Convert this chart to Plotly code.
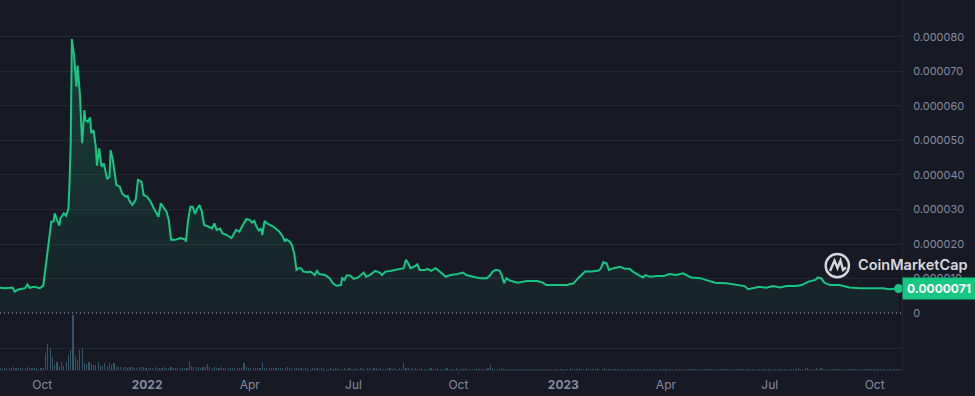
import pandas as pd
import plotly.graph_objects as go

start_date = "2021-08-25"

# price: day offset from start_date, price in units of 1e-6 USD
price_days = [0, 5, 11, 13, 16, 19, 22, 24, 26, 30, 35, 38, 40, 43, 45, 47, 48, 50, 52, 53, 56, 58, 60, 61, 62, 63, 65, 67, 68, 70,
              72, 74, 75, 77, 79, 80, 82, 84, 85, 87, 89, 91, 94, 96, 97, 99, 102, 105, 107, 110, 112, 113, 116, 119, 121, 124, 126, 129, 132, 135,
              139, 141, 144, 146, 148, 150, 154, 158, 162, 163, 165, 167, 169, 171, 173, 175, 177, 179, 183, 186, 188, 190, 193, 195, 199, 203, 207, 210, 213, 216,
              219, 221, 223, 225, 227, 229, 230, 232, 234, 237, 240, 243, 245, 248, 250, 251, 254, 256, 258, 260, 262, 264, 266, 270, 272, 275, 276, 278, 280, 285,
              289, 292, 295, 299, 300, 302, 304, 307, 310, 314, 317, 319, 321, 324, 329, 333, 335, 338, 342, 348, 354, 356, 358, 360, 363, 366, 368, 373, 375, 378,
              380, 382, 385, 389, 391, 395, 400, 406, 409, 415, 421, 427, 430, 432, 435, 438, 440, 442, 444, 447, 454, 462, 471, 476, 479, 488, 497, 503, 507, 513,
              519, 525, 527, 529, 532, 534, 538, 544, 548, 552, 555, 560, 564, 566, 570, 576, 582, 587, 593, 599, 602, 606, 614, 621, 627, 637, 646, 653, 656, 660,
              666, 672, 678, 684, 690, 698, 703, 709, 715, 717, 720, 723, 728, 736, 745, 754, 766, 774, 780, 788]
price_micro = [7.3, 7.2, 7.4, 6.2, 6.8, 6.9, 7.2, 8.3, 7.3, 7.6, 7.2, 8.0, 13.4, 22.1, 26.5, 26.5, 28.9, 27.0, 25.3, 27.4, 28.9, 28.2, 30.3, 38.0, 49.2, 79.4, 74.3, 65.6, 71.7, 63.7,
               49.2, 58.8, 55.9, 55.4, 56.7, 52.1, 53.0, 48.2, 42.7, 47.7, 42.4, 43.4, 38.8, 39.5, 47.2, 44.3, 37.1, 36.6, 34.7, 33.7, 33.9, 32.8, 31.3, 32.8, 38.6, 38.1, 34.2, 33.7, 32.3, 30.3,
               27.9, 31.8, 30.5, 29.4, 27.0, 21.2, 21.2, 21.7, 21.4, 20.7, 27.0, 30.8, 30.8, 28.7, 30.3, 31.3, 29.4, 25.5, 25.0, 24.5, 26.0, 24.1, 24.5, 23.1, 22.6, 21.7, 24.1, 23.6, 25.5, 27.2,
               27.0, 26.2, 26.7, 25.0, 23.9, 24.5, 22.6, 26.7, 26.0, 25.5, 25.0, 24.1, 23.6, 22.1, 20.7, 21.4, 20.7, 19.7, 17.3, 12.5, 13.0, 13.0, 12.0, 11.8, 12.0, 11.3, 11.0, 12.2, 11.3, 11.0,
               10.1, 8.6, 7.9, 8.1, 10.1, 9.6, 10.9, 10.9, 9.9, 10.3, 11.0, 11.7, 10.5, 10.9, 12.2, 11.7, 11.0, 12.0, 12.2, 12.5, 13.0, 15.4, 14.4, 13.0, 13.4, 14.1, 12.5, 12.5, 12.8, 12.2,
               12.5, 13.0, 12.2, 11.2, 10.5, 11.0, 11.2, 11.7, 11.0, 10.5, 10.1, 10.1, 11.0, 12.0, 12.5, 12.3, 11.0, 8.6, 10.1, 9.4, 8.8, 9.3, 9.3, 8.8, 8.1, 8.1, 8.1, 8.6, 10.1, 12.0,
               12.0, 12.3, 13.0, 14.7, 14.4, 12.5, 13.0, 13.4, 12.8, 12.8, 12.0, 11.0, 10.3, 11.0, 10.5, 10.7, 10.7, 11.3, 11.0, 11.5, 11.0, 10.3, 10.1, 9.4, 8.8, 8.6, 8.1, 7.8, 6.9, 7.2,
               7.6, 7.3, 7.8, 7.4, 7.8, 7.8, 8.1, 9.1, 9.6, 10.3, 10.1, 8.8, 8.1, 8.1, 7.4, 7.2, 7.3, 7.2, 6.9, 7.1]

# volume bars every 2 days (relative units)
volume_rel = [
    0.08, 0.06, 0.08, 0.07, 0.10, 0.08, 0.14, 0.08, 0.07, 0.09, 0.10, 0.07, 0.15, 0.10, 0.09, 0.10, 0.08, 0.06, 0.07, 0.09,
    0.80, 1.20, 1.00, 0.60, 0.23, 0.38, 0.15, 0.38, 0.18, 0.38, 0.69, 0.92, 2.53, 0.65, 0.46, 0.92, 1.00, 0.30, 0.28, 0.38,
    0.28, 0.23, 0.23, 0.38, 0.18, 0.18, 0.30, 0.20, 0.30, 0.23, 0.30, 0.18, 0.15, 0.12, 0.14, 0.12, 0.11, 0.13, 0.12, 0.10,
    0.11, 0.15, 0.12, 0.12, 0.10, 0.08, 0.10, 0.10, 0.12, 0.10, 0.11, 0.10, 0.12, 0.09, 0.10, 0.12, 0.10, 0.08, 0.10, 0.10,
    0.08, 0.10, 0.11, 0.41, 0.20, 0.15, 0.12, 0.14, 0.10, 0.14, 0.12, 0.28, 0.12, 0.10, 0.12, 0.09, 0.10, 0.13, 0.10, 0.09,
    0.10, 0.08, 0.09, 0.10, 0.08, 0.09, 0.10, 0.30, 0.12, 0.10, 0.09, 0.10, 0.08, 0.10, 0.09, 0.37, 0.10, 0.08, 0.09, 0.08,
    0.08, 0.09, 0.07, 0.08, 0.10, 0.09, 0.12, 0.08, 0.07, 0.08, 0.09, 0.07, 0.08, 0.06, 0.07, 0.08, 0.06, 0.07, 0.08, 0.07,
    0.06, 0.07, 0.08, 0.06, 0.05, 0.07, 0.06, 0.08, 0.07, 0.06, 0.05, 0.07, 0.06, 0.08, 0.06, 0.05, 0.07, 0.06, 0.08, 0.07,
    0.06, 0.08, 0.07, 0.06, 0.09, 0.07, 0.06, 0.07, 0.05, 0.06, 0.07, 0.08, 0.06, 0.07, 0.06, 0.07, 0.05, 0.34, 0.09, 0.07,
    0.06, 0.07, 0.08, 0.06, 0.05, 0.07, 0.06, 0.05, 0.06, 0.07, 0.05, 0.06, 0.07, 0.05, 0.06, 0.05, 0.07, 0.06, 0.05, 0.06,
    0.07, 0.05, 0.06, 0.05, 0.07, 0.06, 0.05, 0.06, 0.05, 0.07, 0.06, 0.05, 0.06, 0.05, 0.07, 0.23, 0.09, 0.06, 0.05, 0.06,
    0.07, 0.05, 0.06, 0.05, 0.04, 0.05, 0.06, 0.05, 0.04, 0.05, 0.06, 0.05, 0.04, 0.05, 0.04, 0.05, 0.06, 0.04, 0.05, 0.04,
    0.05, 0.04, 0.05, 0.06, 0.04, 0.05, 0.04, 0.05, 0.06, 0.05, 0.07, 0.06, 0.05, 0.06, 0.07, 0.05, 0.06, 0.08, 0.06, 0.05,
    0.06, 0.05, 0.07, 0.06, 0.05, 0.08, 0.06, 0.05, 0.06, 0.05, 0.04, 0.05, 0.06, 0.05, 0.04, 0.05, 0.06, 0.05, 0.04, 0.05,
    0.05, 0.04, 0.05, 0.04, 0.05, 0.06, 0.04, 0.05, 0.04, 0.05, 0.04, 0.05, 0.04, 0.04, 0.05, 0.04, 0.05, 0.04, 0.05, 0.04,
    0.04, 0.05, 0.04, 0.04, 0.05, 0.04, 0.04, 0.05, 0.04, 0.04, 0.05, 0.04, 0.04, 0.05, 0.04, 0.04, 0.05, 0.04, 0.04, 0.05,
    0.04, 0.04, 0.05, 0.04, 0.04, 0.05, 0.04, 0.04, 0.05, 0.04, 0.04, 0.05, 0.04, 0.04, 0.05, 0.04, 0.04, 0.05, 0.04, 0.04,
    0.05, 0.04, 0.04, 0.05, 0.04, 0.05, 0.04, 0.05, 0.06, 0.05, 0.07, 0.06, 0.05, 0.08, 0.07, 0.06, 0.05, 0.06, 0.08, 0.06,
    0.07, 0.06, 0.05, 0.06, 0.05, 0.04, 0.05, 0.04, 0.05, 0.04, 0.05, 0.04, 0.05, 0.04, 0.05, 0.04, 0.05, 0.04, 0.05, 0.04,
    0.05, 0.04, 0.05, 0.04, 0.05, 0.04, 0.05, 0.04, 0.05, 0.04, 0.05, 0.04, 0.05, 0.04, 0.05, 0.04,
]

x_tick_dates = ["2021-10-01", "2022-01-01", "2022-04-01", "2022-07-01", "2022-10-01",
                "2023-01-01", "2023-04-01", "2023-07-01", "2023-10-01"]
x_tick_labels = ["Oct", "<b>2022</b>", "Apr", "Jul", "Oct", "<b>2023</b>", "Apr", "Jul", "Oct"]
y_tick_vals = [0, 0.00001, 0.00002, 0.00003, 0.00004, 0.00005, 0.00006, 0.00007, 0.00008]
y_tick_labels = ["0", "0.000010", "0.000020", "0.000030", "0.000040", "0.000050",
                 "0.000060", "0.000070", "0.000080"]
last_price_label = "0.0000071"

BG = "#171924"
GRID = "#242734"
GREEN = "#16c784"
LABEL = "#858ca2"

t0 = pd.Timestamp(start_date)
price_dates = [t0 + pd.Timedelta(days=d) for d in price_days]
price = [v * 1e-6 for v in price_micro]
vol_dates = pd.date_range(start_date, periods=len(volume_rel), freq="2D")

fig = go.Figure()
fig.add_trace(go.Scatter(
    x=price_dates, y=price, mode="lines",
    line=dict(color=GREEN, width=2),
    fill="tozeroy",
    fillgradient=dict(type="vertical",
                      colorscale=[[0, "rgba(22,199,132,0.05)"], [1, "rgba(22,199,132,0.22)"]],
                      start=0, stop=0.00008),
    yaxis="y", showlegend=False, hoverinfo="skip",
))
fig.add_trace(go.Scatter(
    x=[price_dates[-1]], y=[price[-1]], mode="markers",
    marker=dict(color=GREEN, size=9), showlegend=False, hoverinfo="skip",
))
fig.add_trace(go.Bar(
    x=vol_dates, y=volume_rel, yaxis="y2",
    marker=dict(color="rgba(58,98,118,0.85)", line=dict(width=0)),
    width=86400000 * 1.0, showlegend=False, hoverinfo="skip",
))

x_end = t0 + pd.Timedelta(days=791)
fig.update_layout(
    width=975, height=396,
    margin=dict(l=0, r=73, t=0, b=26),
    paper_bgcolor=BG, plot_bgcolor=BG,
    font=dict(family="Inter", color=LABEL, size=11),
    bargap=0,
    xaxis=dict(
        range=[t0, x_end], tickvals=x_tick_dates, ticktext=x_tick_labels,
        showgrid=False, zeroline=False, showline=True, linecolor=GRID, linewidth=1,
        ticks="outside", ticklen=4, tickcolor=GRID, tickfont=dict(size=12, color=LABEL),
    ),
    yaxis=dict(
        side="right", range=[-0.00001652, 0.00009072],
        tickvals=y_tick_vals, ticktext=y_tick_labels,
        showgrid=True, gridcolor=GRID, gridwidth=1,
        zeroline=True, zerolinecolor=BG, zerolinewidth=2,
        showline=True, linecolor=GRID, linewidth=1,
        ticks="", ticklabelstandoff=8, tickfont=dict(size=11, color=LABEL),
    ),
    yaxis2=dict(
        overlaying="y", side="left", range=[0, 17.05],
        tickvals=[1], showticklabels=False, showgrid=True, gridcolor=GRID,
        zeroline=False, showline=False,
    ),
    shapes=[
        dict(type="line", xref="paper", yref="y", x0=0, x1=1, y0=0, y1=0,
             line=dict(color="rgba(220,224,235,0.75)", width=1, dash="1px,3px"), layer="above"),
        dict(type="circle", xref="paper", yref="paper", x0=0.9154, x1=0.9412, y0=0.2505, y1=0.3135,
             line=dict(color="rgba(235,237,242,0.9)", width=2.4), layer="above"),
        dict(type="path", xref="paper", yref="paper",
             path="M 0.9202 0.2676 L 0.9252 0.2959 L 0.9285 0.2757 L 0.9318 0.2959 L 0.9346 0.2703 L 0.9379 0.2770",
             line=dict(color="rgba(235,237,242,0.9)", width=2.4), layer="above"),
    ],
    annotations=[
        dict(xref="paper", yref="paper", x=0.9495, y=0.2838, xanchor="left", yanchor="middle",
             text="CoinMarketCap", showarrow=False,
             font=dict(family="Inter", size=14.5, color="rgba(235,237,242,0.92)", weight=600)),
        dict(xref="paper", yref="y", x=1, y=price[-1], xanchor="left", yanchor="middle",
             text=last_price_label, showarrow=False, bgcolor=GREEN, borderpad=3,
             width=66, font=dict(family="Inter", size=12, color="#ffffff", weight=700)),
    ],
)

fig.write_html(
    "out.html",
    config={"displayModeBar": False},
    post_script="document.body.style.margin='0';document.body.style.overflow='hidden';"
                "document.body.style.background='" + BG + "';",
)
